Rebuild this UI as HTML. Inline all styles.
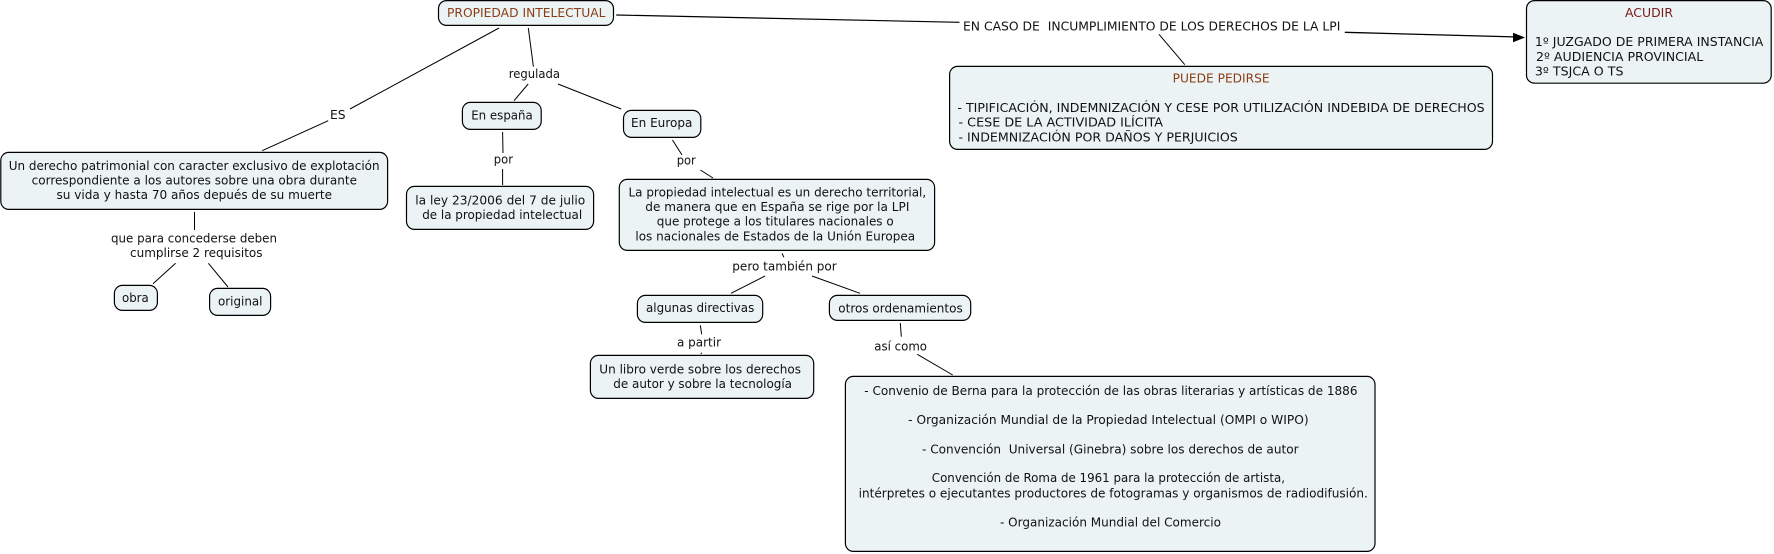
<!DOCTYPE html>
<html lang="es">
<head>
<meta charset="utf-8">
<title>Propiedad intelectual</title>
<style>
html,body{margin:0;padding:0;background:#fff;width:1774px;height:554px;overflow:hidden}
svg{display:block}
text{font-family:"DejaVu Sans","Liberation Sans",sans-serif;font-size:12px;fill:#111;white-space:pre;dominant-baseline:alphabetic}
rect{fill:#ecf3f5;stroke:#000;stroke-width:1.2}
line{stroke:#000;stroke-width:1}
</style>
</head>
<body>
<svg xmlns="http://www.w3.org/2000/svg" width="1774" height="554" viewBox="0 0 1774 554">
<g>
<line x1="499" y1="28" x2="350" y2="109"/>
<line x1="328.2" y1="120.7" x2="262.2" y2="150.7"/>
<line x1="528.3" y1="28" x2="533.4" y2="66.7"/>
<line x1="528.2" y1="84" x2="514" y2="100.7"/>
<line x1="558" y1="84" x2="621.2" y2="109"/>
<line x1="502.6" y1="132" x2="503" y2="153"/>
<line x1="502.6" y1="169" x2="502.6" y2="185"/>
<line x1="672.5" y1="140" x2="682" y2="155"/>
<line x1="700.4" y1="170" x2="713" y2="178"/>
<line x1="782" y1="253.3" x2="783.9" y2="257.3"/>
<line x1="765" y1="276" x2="731" y2="293.3"/>
<line x1="812" y1="276" x2="860" y2="293.3"/>
<line x1="700.3" y1="325.3" x2="701.7" y2="334.3"/>
<line x1="701.3" y1="352.7" x2="701.3" y2="354"/>
<line x1="900.3" y1="323" x2="901.3" y2="336.7"/>
<line x1="917.3" y1="354.3" x2="952.7" y2="375"/>
<line x1="194.5" y1="212" x2="194.5" y2="230"/>
<line x1="175.6" y1="263.3" x2="153" y2="283.7"/>
<line x1="208.4" y1="263.3" x2="228" y2="287"/>
<line x1="616.2" y1="15" x2="959.5" y2="22.3" style="stroke-width:1.2"/>
<line x1="1159" y1="34.3" x2="1184.8" y2="64.7"/>
<line x1="1344.8" y1="32.3" x2="1514" y2="36.9" style="stroke-width:1.3"/>
<polygon points="1525,37.5 1513,32.7 1513,42.3" fill="#000"/>
</g>
<g>
<rect x="438.5" y="0.6" width="175" height="24.8" rx="8"/>
<rect x="0.8" y="152.4" width="386.8" height="57" rx="8"/>
<rect x="114.4" y="285.4" width="43" height="25" rx="8"/>
<rect x="209.6" y="288.4" width="61" height="27" rx="8"/>
<rect x="462.4" y="102.4" width="78.8" height="27" rx="8"/>
<rect x="623.5" y="110.4" width="77.3" height="27" rx="8"/>
<rect x="406.5" y="186.4" width="187.1" height="43" rx="8"/>
<rect x="619.3" y="179.4" width="315.3" height="71" rx="8"/>
<rect x="637.4" y="295.4" width="125.3" height="27" rx="8"/>
<rect x="829.4" y="295.4" width="141.3" height="25" rx="8"/>
<rect x="590.4" y="355.4" width="223.3" height="43" rx="8"/>
<rect x="845.4" y="376.4" width="529.6" height="175" rx="8"/>
<rect x="949.6" y="66.4" width="542.9" height="83" rx="8"/>
<rect x="1526.5" y="0.6" width="244.7" height="82.6" rx="8"/>
</g>
<g lengthAdjust="spacingAndGlyphs">
<text x="447" y="17" textLength="158.5" lengthAdjust="spacingAndGlyphs" style="fill:#8a3d14">PROPIEDAD INTELECTUAL</text>
<text x="8.7" y="170" textLength="370.9" lengthAdjust="spacingAndGlyphs">Un derecho patrimonial con caracter exclusivo de explotación</text>
<text x="31.6" y="184.6" textLength="325.4" lengthAdjust="spacingAndGlyphs">correspondiente a los autores sobre una obra durante</text>
<text x="56.5" y="199.2" textLength="275.5" lengthAdjust="spacingAndGlyphs">su vida y hasta 70 años depués de su muerte</text>
<text x="111" y="242.5" textLength="166" lengthAdjust="spacingAndGlyphs">que para concederse deben</text>
<text x="130" y="257" textLength="132.5" lengthAdjust="spacingAndGlyphs">cumplirse 2 requisitos</text>
<text x="122" y="302" textLength="26.7" lengthAdjust="spacingAndGlyphs">obra</text>
<text x="218" y="305.4" textLength="44.5" lengthAdjust="spacingAndGlyphs">original</text>
<text x="330" y="119" textLength="15.6" lengthAdjust="spacingAndGlyphs">ES</text>
<text x="508.7" y="78" textLength="51.3" lengthAdjust="spacingAndGlyphs">regulada</text>
<text x="471.2" y="119.7" textLength="61.6" lengthAdjust="spacingAndGlyphs">En españa</text>
<text x="631" y="127" textLength="61.4" lengthAdjust="spacingAndGlyphs">En Europa</text>
<text x="493.8" y="163.4" textLength="19.2" lengthAdjust="spacingAndGlyphs">por</text>
<text x="676.7" y="164.4" textLength="19.1" lengthAdjust="spacingAndGlyphs">por</text>
<text x="415.3" y="204.4" textLength="169.9" lengthAdjust="spacingAndGlyphs">la ley 23/2006 del 7 de julio</text>
<text x="422.2" y="219" textLength="160" lengthAdjust="spacingAndGlyphs">de la propiedad intelectual</text>
<text x="628.5" y="196.4" textLength="297.7" lengthAdjust="spacingAndGlyphs">La propiedad intelectual es un derecho territorial,</text>
<text x="645.3" y="211" textLength="264.1" lengthAdjust="spacingAndGlyphs">de manera que en España se rige por la LPI</text>
<text x="656.8" y="225.6" textLength="236.9" lengthAdjust="spacingAndGlyphs">que protege a los titulares nacionales o</text>
<text x="635.4" y="240.3" textLength="279.7" lengthAdjust="spacingAndGlyphs">los nacionales de Estados de la Unión Europea</text>
<text x="732.3" y="270.3" textLength="104.4" lengthAdjust="spacingAndGlyphs">pero también por</text>
<text x="646" y="312" textLength="108.3" lengthAdjust="spacingAndGlyphs">algunas directivas</text>
<text x="838.3" y="312.3" textLength="124.4" lengthAdjust="spacingAndGlyphs">otros ordenamientos</text>
<text x="677" y="346.3" textLength="44" lengthAdjust="spacingAndGlyphs">a partir</text>
<text x="874.3" y="350.3" textLength="52.7" lengthAdjust="spacingAndGlyphs">así como</text>
<text x="599.3" y="373.4" textLength="201.7" lengthAdjust="spacingAndGlyphs">Un libro verde sobre los derechos</text>
<text x="613.3" y="388" textLength="178.7" lengthAdjust="spacingAndGlyphs">de autor y sobre la tecnología</text>
<text x="864.3" y="395" textLength="493.2" lengthAdjust="spacingAndGlyphs">- Convenio de Berna para la protección de las obras literarias y artísticas de 1886</text>
<text x="908.2" y="424" textLength="400.4" lengthAdjust="spacingAndGlyphs">- Organización Mundial de la Propiedad Intelectual (OMPI o WIPO)</text>
<text x="922" y="453.3" textLength="376.6" lengthAdjust="spacingAndGlyphs">- Convención  Universal (Ginebra) sobre los derechos de autor</text>
<text x="931.8" y="482" textLength="353.2" lengthAdjust="spacingAndGlyphs">Convención de Roma de 1961 para la protección de artista,</text>
<text x="858.6" y="497.3" textLength="509.3" lengthAdjust="spacingAndGlyphs">intérpretes o ejecutantes productores de fotogramas y organismos de radiodifusión.</text>
<text x="1000" y="526.3" textLength="221" lengthAdjust="spacingAndGlyphs">- Organización Mundial del Comercio</text>
<text x="1172.6" y="82.7" textLength="97" lengthAdjust="spacingAndGlyphs" style="fill:#8a3d14">PUEDE PEDIRSE</text>
<text x="957.4" y="112" textLength="527.3" lengthAdjust="spacingAndGlyphs">- TIPIFICACIÓN, INDEMNIZACIÓN Y CESE POR UTILIZACIÓN INDEBIDA DE DERECHOS</text>
<text x="958.5" y="126.7" textLength="204.5" lengthAdjust="spacingAndGlyphs">- CESE DE LA ACTIVIDAD ILÍCITA</text>
<text x="958.5" y="141.3" textLength="279.3" lengthAdjust="spacingAndGlyphs">- INDEMNIZACIÓN POR DAÑOS Y PERJUICIOS</text>
<text x="1625" y="17" textLength="48" lengthAdjust="spacingAndGlyphs" style="fill:#7a1a1a">ACUDIR</text>
<text x="1534.9" y="46" textLength="228.5" lengthAdjust="spacingAndGlyphs">1º JUZGADO DE PRIMERA INSTANCIA</text>
<text x="1536" y="61" textLength="167.2" lengthAdjust="spacingAndGlyphs">2º AUDIENCIA PROVINCIAL</text>
<text x="1534.9" y="75.4" textLength="88.6" lengthAdjust="spacingAndGlyphs">3º TSJCA O TS</text>
<text x="963" y="30.6" textLength="377.4" lengthAdjust="spacingAndGlyphs">EN CASO DE  INCUMPLIMIENTO DE LOS DERECHOS DE LA LPI</text>
</g>
</svg>
</body>
</html>
